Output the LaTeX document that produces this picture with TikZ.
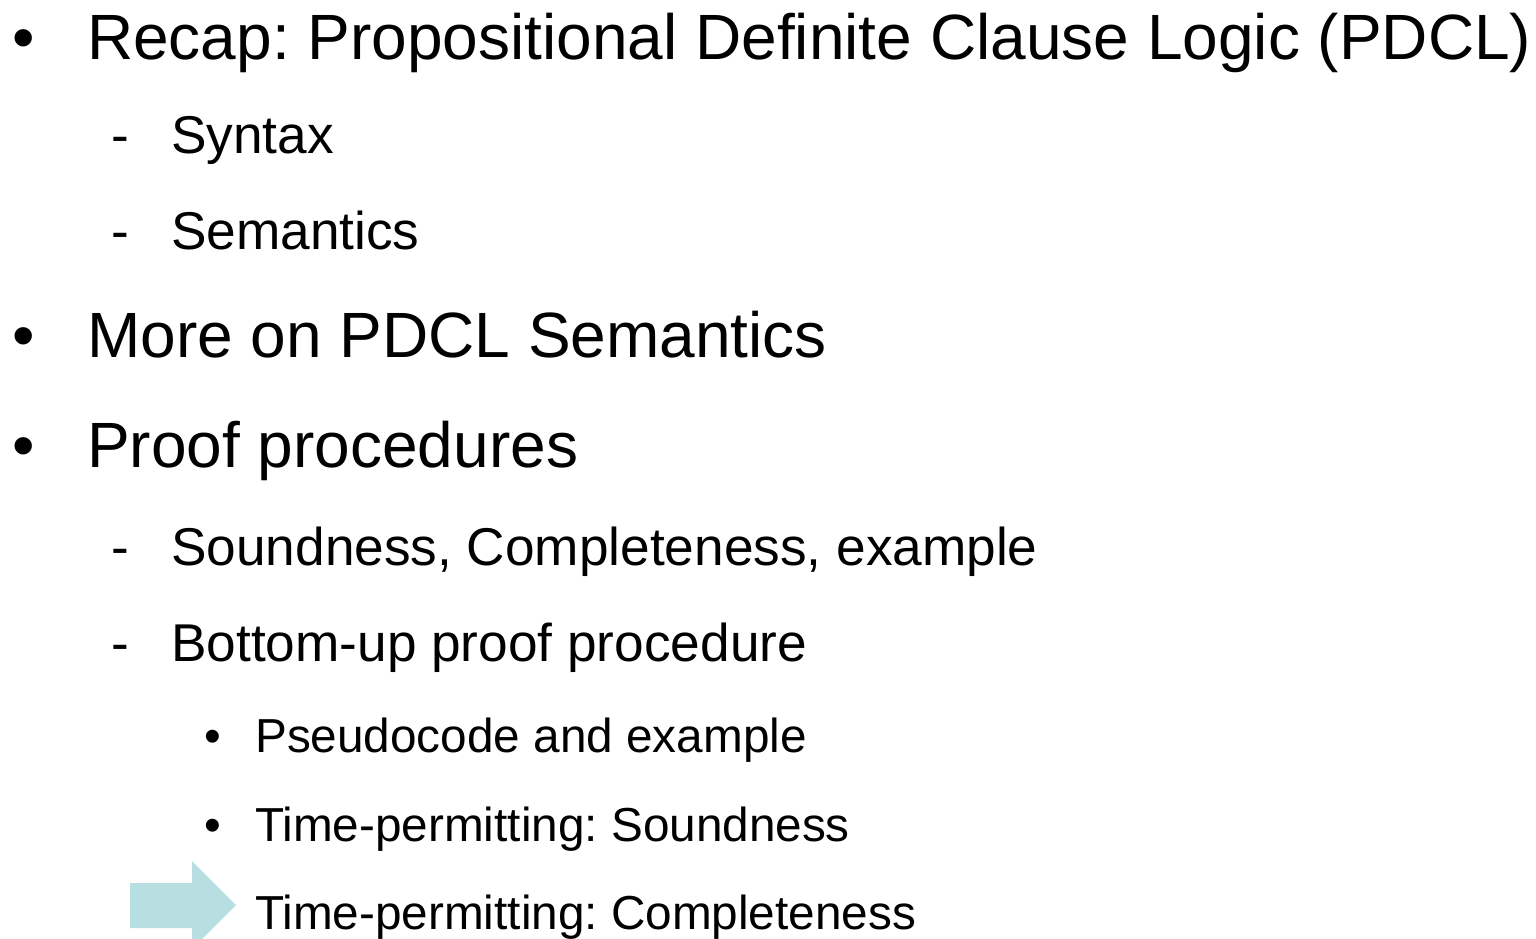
\documentclass[tikz,border=0pt]{standalone}
\usepackage{fontspec}
\setmainfont{Liberation Sans}
\frenchspacing
\tikzset{
  lvlone/.style={anchor=base west, inner sep=0pt, font=\fontsize{64}{70}\selectfont},
  lvltwo/.style={anchor=base west, inner sep=0pt, font=\fontsize{53.2}{60}\selectfont},
  lvlthree/.style={anchor=base west, inner sep=0pt, font=\fontsize{47.7}{54}\selectfont},
}
\definecolor{arrowteal}{RGB}{183,222,224}
\begin{document}
\begin{tikzpicture}[x=1pt,y=-1pt]
  \useasboundingbox (0,0) rectangle (1536,938);
  % level one
  \node[lvlone] (b1) at (12,59) {\textbullet};
  \node[lvlone] (recap) at (87,59) {Recap: Propositional Definite Clause Logic (PDCL)};
  \node[lvltwo] (d1) at (111,153) {-};
  \node[lvltwo] (syntax) at (171,153) {Syntax};
  \node[lvltwo] (d2) at (111,249) {-};
  \node[lvltwo] (sem) at (171,249) {Semantics};
  \node[lvlone] (b2) at (12,357) {\textbullet};
  \node[lvlone] (more) at (87,357) {More on PDCL Semantics};
  \node[lvlone] (b3) at (12,467) {\textbullet};
  \node[lvlone] (proof) at (87,467) {Proof procedures};
  \node[lvltwo] (d3) at (111,565) {-};
  \node[lvltwo] (sound) at (171,565) {Soundness, Completeness, example};
  \node[lvltwo] (d4) at (111,661) {-};
  \node[lvltwo] (bottomup) at (171,661) {Bottom-up proof procedure};
  % level three
  \node[lvlthree] (b4) at (204,752) {\textbullet};
  \node[lvlthree] (pseudo) at (255,752) {Pseudocode and example};
  \node[lvlthree] (b5) at (204,841) {\textbullet};
  \node[lvlthree] (tpsound) at (255,841) {Time-permitting: Soundness};
  \node[lvlthree] (tpcomp) at (255,929) {Time-permitting: Completeness};
  % pointer arrow
  \fill[arrowteal] (130,883) -- (192,883) -- (192,861) -- (236,905) -- (192,949)
    -- (192,928) -- (130,928) -- cycle;
\end{tikzpicture}
\end{document}
